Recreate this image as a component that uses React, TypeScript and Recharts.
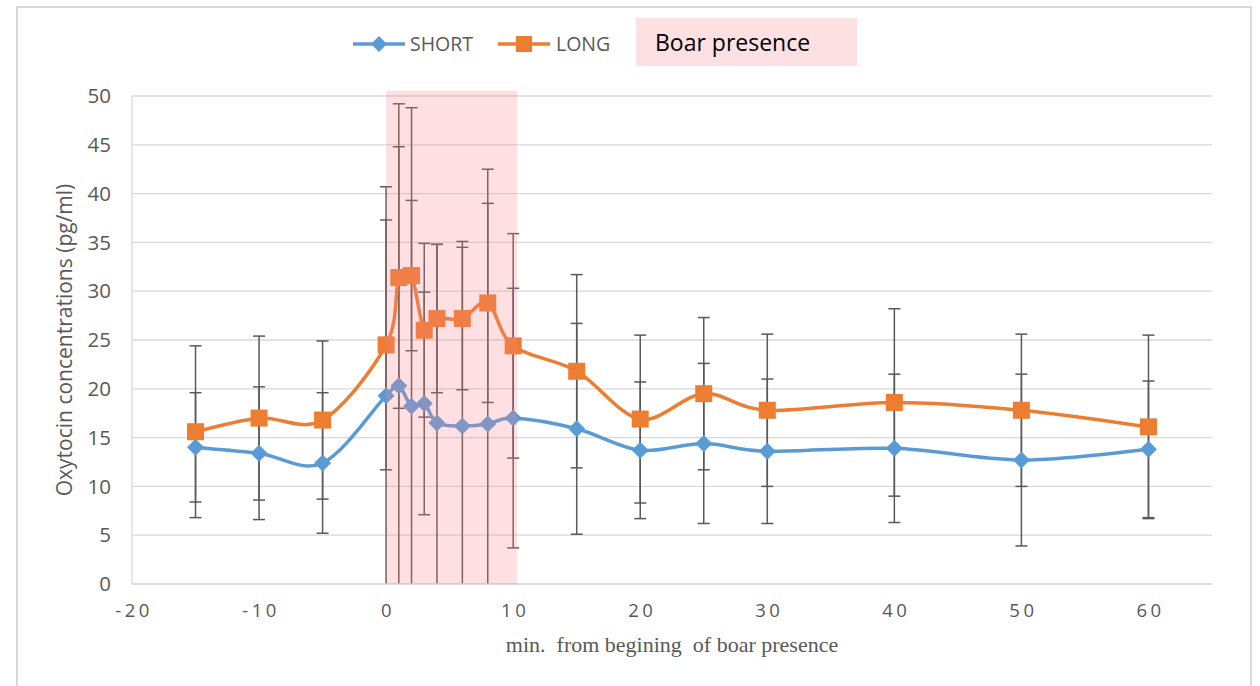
import React from "react";
import {
  LineChart,
  Line,
  XAxis,
  YAxis,
  CartesianGrid,
  ErrorBar,
  ReferenceArea,
} from "recharts";

// minutes from the beginning of boar presence
const minutes = [-15, -10, -5, 0, 1, 2, 3, 4, 6, 8, 10, 15, 20, 25, 30, 40, 50, 60];
const shortMean = [14.0, 13.4, 12.4, 19.3, 20.3, 18.2, 18.5, 16.5, 16.2, 16.4, 17.0, 15.9, 13.7, 14.4, 13.6, 13.9, 12.7, 13.8];
const shortSd = [5.6, 6.8, 7.2, 21.4, 28.9, 30.6, 11.4, 18.3, 18.9, 26.1, 13.3, 10.8, 7.0, 8.2, 7.4, 7.6, 8.8, 7.0];
const longMean = [15.6, 17.0, 16.8, 24.5, 31.4, 31.6, 26.0, 27.2, 27.2, 28.8, 24.4, 21.8, 16.9, 19.5, 17.8, 18.6, 17.8, 16.1];
const longSd = [8.8, 8.4, 8.1, 12.8, 13.4, 7.7, 8.9, 7.6, 7.3, 10.2, 11.5, 9.9, 8.6, 7.8, 7.8, 9.6, 7.8, 9.4];

const xTicks = [-20, -10, 0, 10, 20, 30, 40, 50, 60];
const yTicks = [0, 5, 10, 15, 20, 25, 30, 35, 40, 45, 50];

const boarStart = 0;
const boarEnd = 10.3;
const boarTop = 50.55;

const BLUE = "#5b9bd5";
const ORANGE = "#ed7d31";
const GRAY = "#595959";

const W = 1260;
const H = 686;
const M = { top: 96, right: 48, bottom: 72, left: 72 };
const Y_AXIS_W = 60;
const X_AXIS_H = 30;

const data = minutes.map((m, i) => ({
  min: m,
  short: shortMean[i],
  shortErr: shortSd[i],
  long: longMean[i],
  longErr: longSd[i],
}));

// excel-like smoothed line (bezier with neighbour tangents)
const excelCurve = (context: any) => {
  let pts: number[][] = [];
  return {
    areaStart() {},
    areaEnd() {},
    lineStart() {
      pts = [];
    },
    point(x: number, y: number) {
      pts.push([x, y]);
    },
    lineEnd() {
      if (!pts.length) return;
      context.moveTo(pts[0][0], pts[0][1]);
      for (let i = 0; i < pts.length - 1; i++) {
        const p0 = pts[Math.max(0, i - 1)];
        const p1 = pts[i];
        const p2 = pts[i + 1];
        const p3 = pts[Math.min(pts.length - 1, i + 2)];
        context.bezierCurveTo(
          p1[0] + (p2[0] - p0[0]) / 6,
          p1[1] + (p2[1] - p0[1]) / 6,
          p2[0] - (p3[0] - p1[0]) / 6,
          p2[1] - (p3[1] - p1[1]) / 6,
          p2[0],
          p2[1]
        );
      }
    },
  };
};

const Diamond = (props: any) => {
  const { cx, cy, index } = props;
  if (cx == null || cy == null) return null;
  const r = 8.5;
  return (
    <polygon
      key={`sd-${index}`}
      points={`${cx},${cy - r} ${cx + r},${cy} ${cx},${cy + r} ${cx - r},${cy}`}
      fill={BLUE}
    />
  );
};

const Square = (props: any) => {
  const { cx, cy, index } = props;
  if (cx == null || cy == null) return null;
  const s = 17;
  return <rect key={`ld-${index}`} x={cx - s / 2} y={cy - s / 2} width={s} height={s} fill={ORANGE} />;
};

const XTick = (props: any) => {
  const { x, y, payload } = props;
  return (
    <text
      x={x + 2}
      y={y}
      dy={25}
      textAnchor="middle"
      fill={GRAY}
      fontSize={18.5}
      fontFamily="Open Sans"
      letterSpacing={3.5}
    >
      {payload.value}
    </text>
  );
};

function App() {
  // plot area, used only to clip the error bars that run below zero
  const plotLeft = M.left + Y_AXIS_W;
  const plotBottom = H - M.bottom - X_AXIS_H;
  return (
    <div style={{ position: "absolute", left: 0, top: 0, width: W, height: H, overflow: "hidden", background: "#fff" }}>
      <style>{`.recharts-errorBars, .recharts-errorBar { clip-path: url(#errClip); }`}</style>
      <svg width={0} height={0} style={{ position: "absolute" }}>
        <defs>
          <clipPath id="errClip" clipPathUnits="userSpaceOnUse">
            <rect x={plotLeft - 10} y={0} width={W - plotLeft - M.right + 20} height={plotBottom} />
          </clipPath>
        </defs>
      </svg>
      <div
        style={{
          position: "absolute",
          left: 16,
          top: 6,
          width: 1232,
          height: 700,
          border: "2px solid #d9d9d9",
        }}
      />
      <LineChart
        width={W}
        height={H}
        data={data}
        margin={M}
        style={{ fontFamily: "Open Sans", position: "absolute", left: 0, top: 0 }}
      >
        <CartesianGrid vertical={false} stroke="#d9d9d9" strokeWidth={1.3} />
        <XAxis
          dataKey="min"
          type="number"
          domain={[-20, 65]}
          ticks={xTicks}
          interval={0}
          height={X_AXIS_H}
          axisLine={{ stroke: "#d9d9d9", strokeWidth: 1.5 }}
          tickLine={false}
          tick={<XTick />}
          label={{
            content: (p: any) => {
              const vb = p.viewBox;
              return (
                <text
                  x={vb.x + vb.width / 2}
                  y={652}
                  textAnchor="middle"
                  fill={GRAY}
                  fontSize={22}
                  fontFamily="Liberation Serif"
                >
                  {"min.\u00a0 from begining\u00a0 of boar presence"}
                </text>
              );
            },
          }}
        />
        <YAxis
          type="number"
          domain={[0, 50]}
          ticks={yTicks}
          interval={0}
          allowDataOverflow
          width={Y_AXIS_W}
          axisLine={{ stroke: "#d9d9d9", strokeWidth: 1.3 }}
          tickLine={false}
          tickMargin={15}
          tick={{ fill: GRAY, fontSize: 20.5, fontFamily: "Open Sans" }}
          label={{
            content: () => (
              <text
                x={0}
                y={0}
                transform="translate(72, 340) rotate(-90)"
                textAnchor="middle"
                fill={GRAY}
                fontSize={21}
                fontFamily="Open Sans"
              >
                Oxytocin concentrations (pg/ml)
              </text>
            ),
          }}
        />

        {/* error bars first so the lines and markers sit on top */}
        <Line dataKey="short" stroke="none" dot={false} activeDot={false} isAnimationActive={false}>
          <ErrorBar dataKey="shortErr" width={6} stroke={GRAY} strokeWidth={1.5} direction="y" />
        </Line>
        <Line dataKey="long" stroke="none" dot={false} activeDot={false} isAnimationActive={false}>
          <ErrorBar dataKey="longErr" width={6} stroke={GRAY} strokeWidth={1.5} direction="y" />
        </Line>

        <Line
          dataKey="short"
          type={excelCurve as any}
          stroke={BLUE}
          strokeWidth={3.5}
          dot={Diamond}
          activeDot={false}
          isAnimationActive={false}
        />
        <Line
          dataKey="long"
          type={excelCurve as any}
          stroke={ORANGE}
          strokeWidth={3.5}
          dot={Square}
          activeDot={false}
          isAnimationActive={false}
        />

        {/* translucent band laid over the series, like the drawn shape in the original */}
        <ReferenceArea
          {...({ zIndex: 2000 } as any)}
          x1={boarStart}
          x2={boarEnd}
          y1={0}
          y2={boarTop}
          ifOverflow="visible"
          fill="#fa828c"
          fillOpacity={0.25}
          stroke="none"
        />
      </LineChart>

      {/* legend */}
      <svg style={{ position: "absolute", left: 353, top: 36 }} width={52} height={16}>
        <line x1={0} y1={8} x2={52} y2={8} stroke={BLUE} strokeWidth={3.5} />
        <polygon points="26,0 34,8 26,16 18,8" fill={BLUE} />
      </svg>
      <div style={{ position: "absolute", left: 410, top: 30, height: 28, lineHeight: "28px", fontFamily: "Open Sans", fontSize: 19.5, color: GRAY }}>
        SHORT
      </div>
      <svg style={{ position: "absolute", left: 498, top: 36 }} width={52} height={16}>
        <line x1={0} y1={8} x2={52} y2={8} stroke={ORANGE} strokeWidth={3.5} />
        <rect x={18} y={0} width={16} height={16} fill={ORANGE} />
      </svg>
      <div style={{ position: "absolute", left: 556, top: 30, height: 28, lineHeight: "28px", fontFamily: "Open Sans", fontSize: 19.5, color: GRAY }}>
        LONG
      </div>
      <div
        style={{
          position: "absolute",
          left: 636,
          top: 18,
          width: 221,
          height: 48,
          background: "#fde0e2",
          boxSizing: "border-box",
          paddingLeft: 19,
          lineHeight: "48px",
          fontFamily: "Open Sans",
          fontSize: 23,
          color: "#000",
        }}
      >
        Boar presence
      </div>
    </div>
  );
}

export default App;
